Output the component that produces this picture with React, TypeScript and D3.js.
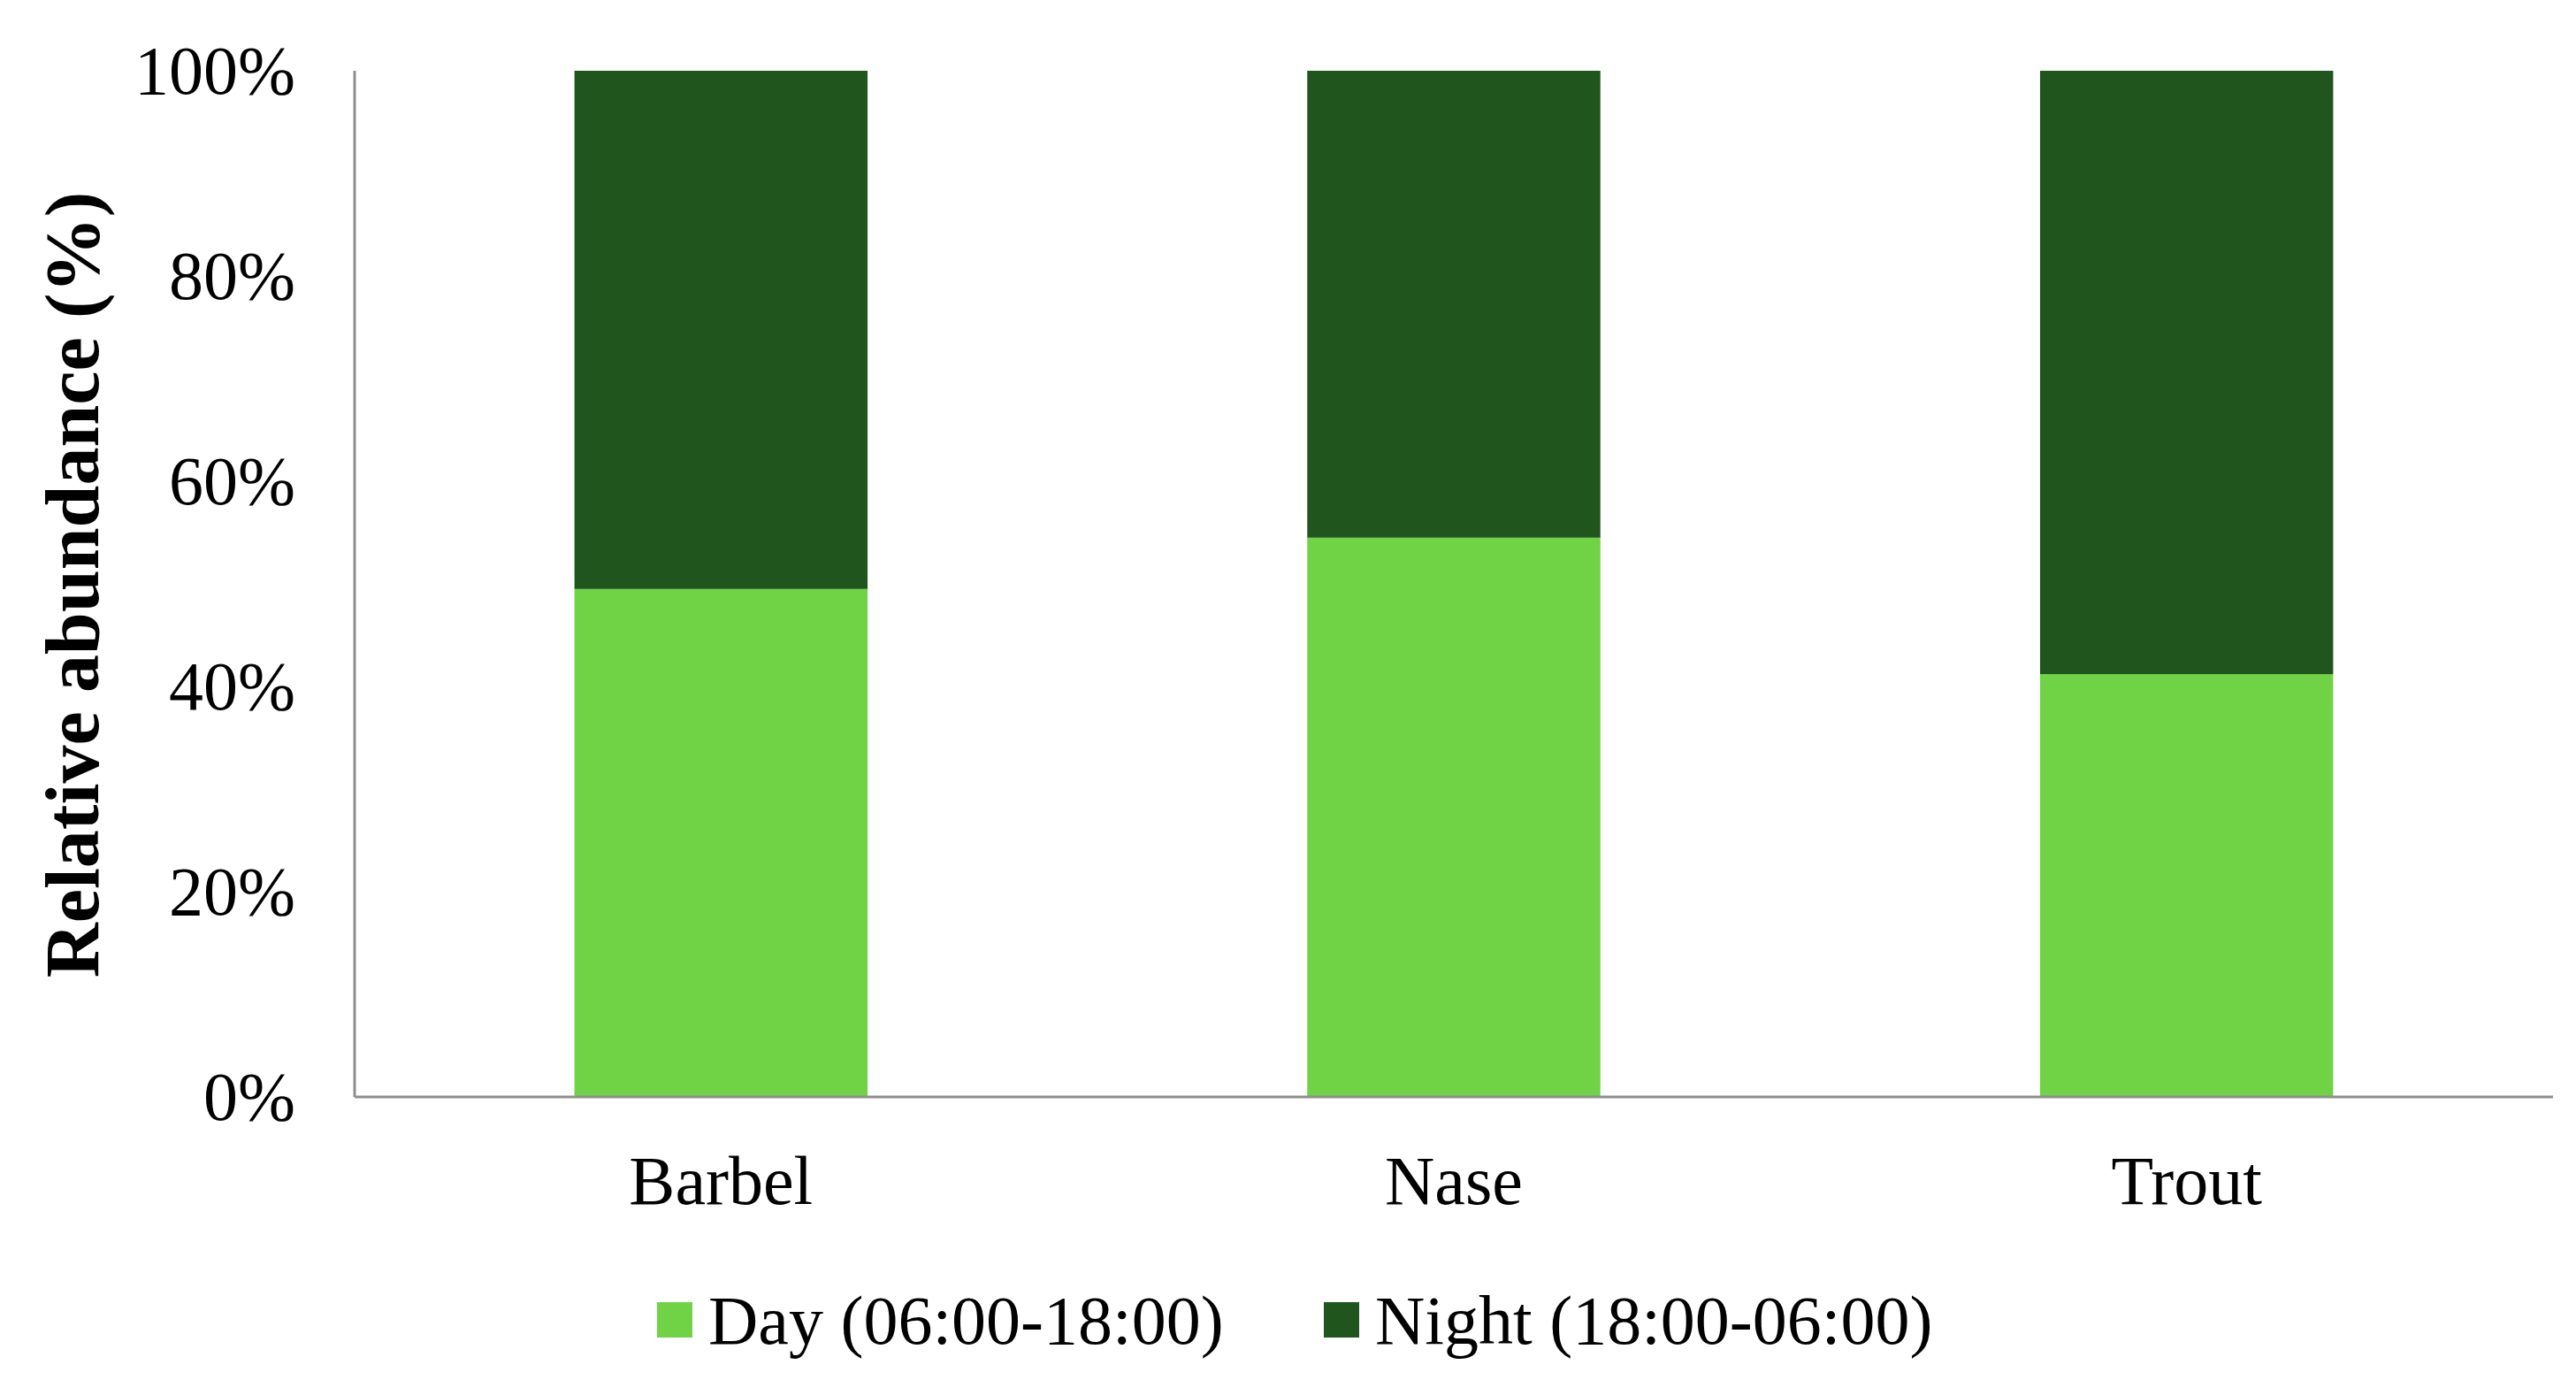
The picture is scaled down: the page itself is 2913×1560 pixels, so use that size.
import React from "react";
import * as d3 from "d3";

const categories = ["Barbel", "Nase", "Trout"];
const dayValues = [49.5, 54.5, 41.2];
const nightValues = [50.5, 45.5, 58.8];
const seriesNames = ["Day (06:00-18:00)", "Night (18:00-06:00)"];
const seriesColors = ["#70d345", "#20561d"];
const yTicks = [0, 20, 40, 60, 80, 100];

const W = 2913;
const H = 1560;
const FONT = "'Liberation Serif', 'Times New Roman', Times, serif";

export default function App() {
  const left = 401;
  const right = 2887;
  const top = 80;
  const bottom = 1240;

  const x = d3.scaleBand<string>().domain(categories).range([left, right]).padding(0);
  const y = d3.scaleLinear().domain([0, 100]).range([bottom, top]);
  const barW = x.step() * 0.4;

  const rows = categories.map((c, i) => ({ cat: c, day: dayValues[i], night: nightValues[i] }));
  const stack = d3.stack<any>().keys(["day", "night"]);
  const layers = stack(rows);

  const legendItems = [
    { name: seriesNames[0], color: seriesColors[0], sx: 743, tx: 801 },
    { name: seriesNames[1], color: seriesColors[1], sx: 1497, tx: 1555 },
  ];

  return (
    <div style={{ position: "absolute", left: 0, top: 0 }}>
      <svg width={W} height={H} style={{ display: "block", background: "#fff" }}>
        <rect x={0} y={0} width={W} height={H} fill="#fff" />
        {layers.map((layer, li) => (
          <g key={li} fill={seriesColors[li]}>
            {layer.map((d: any, i: number) => {
              const cx = (x(categories[i]) as number) + x.bandwidth() / 2;
              return (
                <rect
                  key={i}
                  x={cx - barW / 2}
                  y={y(d[1])}
                  width={barW}
                  height={y(d[0]) - y(d[1])}
                />
              );
            })}
          </g>
        ))}
        <line x1={left} x2={left} y1={top} y2={bottom} stroke="#8e8e8e" strokeWidth={3} />
        <line x1={left} x2={right} y1={bottom} y2={bottom} stroke="#8e8e8e" strokeWidth={3} />
        {yTicks.map((t) => (
          <text
            key={t}
            x={334}
            y={y(t)}
            dy="0.33em"
            textAnchor="end"
            fontFamily={FONT}
            fontSize={78}
            fill="#000"
          >
            {t}%
          </text>
        ))}
        {categories.map((c) => (
          <text
            key={c}
            x={(x(c) as number) + x.bandwidth() / 2}
            y={1361}
            textAnchor="middle"
            fontFamily={FONT}
            fontSize={78}
            fill="#000"
          >
            {c}
          </text>
        ))}
        <text
          transform={`translate(111, 661) rotate(-90)`}
          textAnchor="middle"
          fontFamily={FONT}
          fontWeight="bold"
          fontSize={86}
          fill="#000"
        >
          Relative abundance (%)
        </text>
        {legendItems.map((it) => (
          <g key={it.name}>
            <rect x={it.sx} y={1472} width={40} height={40} fill={it.color} />
            <text x={it.tx} y={1519} fontFamily={FONT} fontSize={78} fill="#000">
              {it.name}
            </text>
          </g>
        ))}
      </svg>
    </div>
  );
}
